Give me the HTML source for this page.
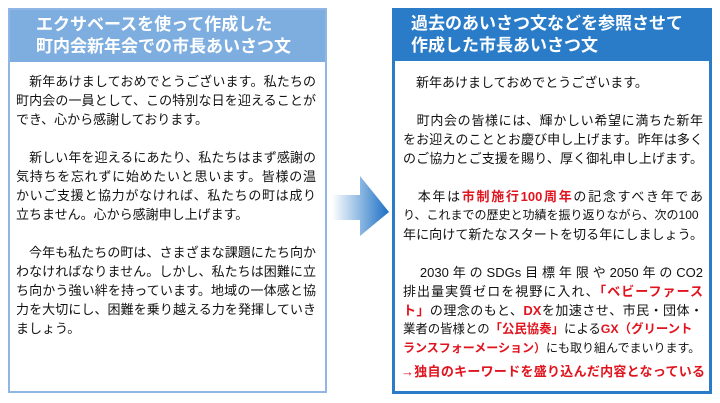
<!DOCTYPE html>
<html><head><meta charset="utf-8"><style>
body{margin:0;width:720px;height:403px;background:#fff;position:relative;overflow:hidden;font-family:"Liberation Sans","Noto Sans CJK JP",sans-serif;}
.box{position:absolute;box-sizing:border-box;background:#fff;}
.hd{position:absolute;left:0;top:0;right:0;color:#fff;font-size:17px;line-height:22px;font-weight:bold;white-space:nowrap;}
.tx{position:absolute;font-size:13px;line-height:19px;color:#111;width:300px;}
.tx div{height:19px;white-space:nowrap;}
.tx .j{text-align:justify;text-align-last:justify;white-space:normal;overflow:hidden;}
.tx .s{font-size:12px;letter-spacing:0;}
.r{color:#e0141e;}
</style></head><body>
<div class="box" style="left:8px;top:8px;width:319px;height:385px;border:2px solid #8fb6e4;">
 <div class="hd" style="height:52px;background:#7eaddf;padding:4px 0 0 26px;box-sizing:border-box;">エクサベースを使って作成した<br>町内会新年会での市長あいさつ文</div>
 <div class="tx" style="left:6px;top:62px;">
  <div class="j">　新年あけましておめでとうございます。私たちの</div>
  <div class="j">町内会の一員として、この特別な日を迎えることが</div>
  <div>でき、心から感謝しております。</div>
  <div></div>
  <div class="j">　新しい年を迎えるにあたり、私たちはまず感謝の</div>
  <div class="j">気持ちを忘れずに始めたいと思います。皆様の温</div>
  <div class="j">かいご支援と協力がなければ、私たちの町は成り</div>
  <div>立ちません。心から感謝申し上げます。</div>
  <div></div>
  <div class="j">　今年も私たちの町は、さまざまな課題にたち向か</div>
  <div class="j">わなければなりません。しかし、私たちは困難に立</div>
  <div class="j">ち向かう強い絆を持っています。地域の一体感と協</div>
  <div class="j">力を大切にし、困難を乗り越える力を発揮していき</div>
  <div>ましょう。</div>
 </div>
</div>
<svg style="position:absolute;left:330px;top:174px" width="62" height="64">
 <defs><linearGradient id="g" x1="0" x2="1"><stop offset="0" stop-color="#fff"/><stop offset="1" stop-color="#1a6fc4"/></linearGradient></defs>
 <polygon points="2,21 30,21 30,2 59,38 30,62 30,46 2,46" fill="url(#g)"/>
</svg>
<div class="box" style="left:392px;top:8px;width:320px;height:386px;border:3px solid #2a7cc8;">
 <div class="hd" style="height:50px;background:#2a7cc8;padding:2px 0 0 16px;box-sizing:border-box;">過去のあいさつ文などを参照させて<br>作成した市長あいさつ文</div>
 <div class="tx" style="left:8px;top:62px;">
  <div>　新年あけましておめでとうございます。</div>
  <div></div>
  <div class="j">　町内会の皆様には、輝かしい希望に満ちた新年</div>
  <div class="j">をお迎えのこととお慶び申し上げます。昨年は多く</div>
  <div class="j">のご協力とご支援を賜り、厚く御礼申し上げます。</div>
  <div></div>
  <div class="j">　本年は<b class="r">市制施行100周年</b>の記念すべき年であ</div>
  <div class="s">り、これまでの歴史と功績を振り返りながら、次の100</div>
  <div class="j">年に向けて新たなスタートを切る年にしましょう。</div>
  <div></div>
  <div class="j">　2030年のSDGs目標年限や2050年のCO2</div>
  <div class="j">排出量実質ゼロを視野に入れ、<b class="r">「ベビーファース</b></div>
  <div class="j"><b class="r">ト」</b>の理念のもと、<b class="r">DX</b>を加速させ、市民・団体・事</div>
  <div style="font-size:12.4px;">業者の皆様との<b class="r">「公民協奏」</b>による<b class="r">GX（グリーント</b></div>
  <div class="s"><b class="r">ランスフォーメーション）</b>にも取り組んでまいります。</div>
 </div>
 <div class="tx r" style="left:6px;top:351px;font-weight:bold;font-size:13px;width:304px;"><div class="j">→独自のキーワードを盛り込んだ内容となっている</div></div>
</div>
</body></html>
